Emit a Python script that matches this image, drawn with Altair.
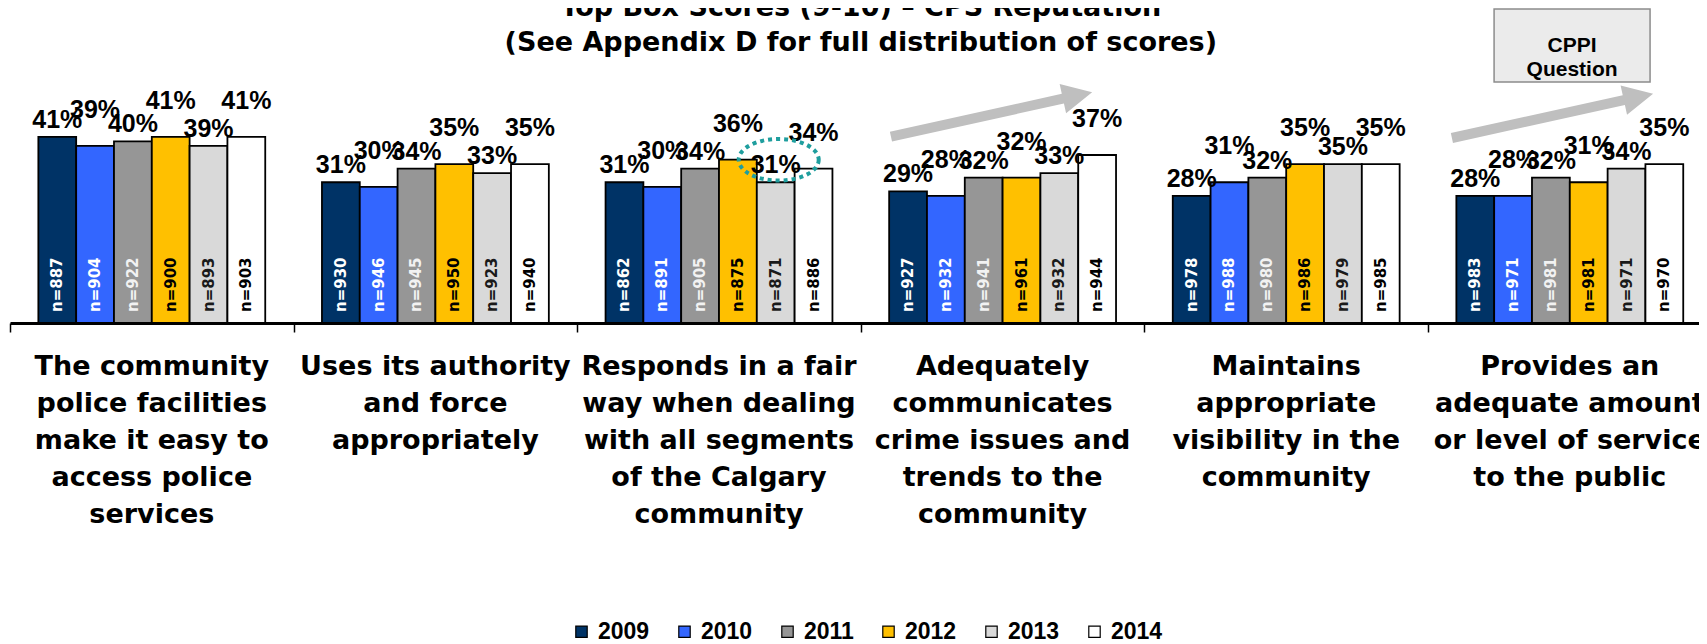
import altair as alt
import pandas as pd

# ---------------- data ----------------
categories = [
    "The community\npolice facilities\nmake it easy to\naccess police\nservices",
    "Uses its authority\nand force\nappropriately",
    "Responds in a fair\nway when dealing\nwith all segments\nof the Calgary\ncommunity",
    "Adequately\ncommunicates\ncrime issues and\ntrends to the\ncommunity",
    "Maintains\nappropriate\nvisibility in the\ncommunity",
    "Provides an\nadequate amount\nor level of service\nto the public",
]
years = ["2009", "2010", "2011", "2012", "2013", "2014"]

pct_2009 = [41, 31, 31, 29, 28, 28]
pct_2010 = [39, 30, 30, 28, 31, 28]
pct_2011 = [40, 34, 34, 32, 32, 32]
pct_2012 = [41, 35, 36, 32, 35, 31]
pct_2013 = [39, 33, 31, 33, 35, 34]
pct_2014 = [41, 35, 34, 37, 35, 35]

n_2009 = [887, 930, 862, 927, 978, 983]
n_2010 = [904, 946, 891, 932, 988, 971]
n_2011 = [922, 945, 905, 941, 980, 981]
n_2012 = [900, 950, 875, 961, 986, 981]
n_2013 = [893, 923, 871, 932, 979, 971]
n_2014 = [903, 940, 886, 944, 985, 970]

title_lines = ["Top Box Scores (9-10) \u2013 CPS Reputation",
               "(See Appendix D for full distribution of scores)"]

# annotations (in data units: category index / percent)
highlight_category = 2
highlight_year = "2013"
arrow_center_x = [3.461, 5.439]
arrow_center_y = [45.95, 45.62]
box_text = ["CPPI\nQuestion"]
box_x0, box_x1 = [5.233], [5.783]
box_y0, box_y1 = [53.08], [69.16]

# ---------------- styles ----------------
bar_colors = ["#003366", "#3366FF", "#969696", "#FFC000", "#D9D9D9", "#FFFFFF"]
n_label_colors = ["#FFFFFF", "#FFFFFF", "#F2F2F2", "#000000", "#1A1A1A", "#000000"]

pcts = [pct_2009, pct_2010, pct_2011, pct_2012, pct_2013, pct_2014]
ns = [n_2009, n_2010, n_2011, n_2012, n_2013, n_2014]

rows = []
for ci in range(len(categories)):
    for yi, yr in enumerate(years):
        rows.append({"cat_i": ci, "year_i": yi, "year": yr,
                     "pct": pcts[yi][ci], "n": ns[yi][ci],
                     "ncol": n_label_colors[yi]})
df = pd.DataFrame(rows)
cat_df = pd.DataFrame({"cat_i": list(range(len(categories))), "label": categories, "zero": 0})
arrow_df = pd.DataFrame({"x": arrow_center_x, "y": arrow_center_y})
box_df = pd.DataFrame({"x0": box_x0, "x1": box_x1, "y0": box_y0, "y1": box_y1, "text": box_text})
title_df = pd.DataFrame({"text": ["\n".join(title_lines)], "xc": [len(categories) / 2]})

W, H = 1689, 227
STEP = 283.6
xscale = alt.Scale(domain=[0, W / STEP], nice=False, zero=False)
yscale = alt.Scale(domain=[0, 50], nice=False)
xaxis = alt.Axis(values=[0, 1, 2, 3, 4, 5], labels=False, grid=False, domain=True,
                 ticks=True, tickSize=9, tickWidth=1.5, tickColor="black",
                 domainColor="black", domainWidth=3, title=None)

GROUP = 0.8
base = alt.Chart(df).transform_calculate(
    x0=f"datum.cat_i + {(1 - GROUP) / 2} + datum.year_i * {GROUP / 6}",
    x1=f"datum.x0 + {GROUP / 6}",
    xc=f"datum.x0 + {GROUP / 12}",
    pct_label="datum.pct + '%'",
    n_label="'n=' + datum.n",
    zero="0",
)

bars = base.mark_bar(stroke="black", strokeWidth=1.8).encode(
    x=alt.X("x0:Q", scale=xscale, axis=xaxis),
    x2="x1:Q",
    y=alt.Y("pct:Q", scale=yscale, axis=None),
    y2="zero:Q",
    color=alt.Color("year:N", scale=alt.Scale(domain=years, range=bar_colors),
                    legend=alt.Legend(orient="none", legendX=560, legendY=524,
                                      direction="horizontal", title=None,
                                      symbolType="square", symbolSize=130,
                                      symbolStrokeColor="black", symbolStrokeWidth=1.2,
                                      symbolOpacity=1,
                                      labelFont="Liberation Sans", labelFontWeight="bold",
                                      labelFontSize=23, labelColor="black",
                                      labelOffset=5, columnPadding=23, padding=0)),
)


def pct_layer(parity, dy):
    return base.transform_filter(f"datum.year_i % 2 == {parity}").mark_text(
        font="Liberation Sans", fontWeight="bold", fontSize=25,
        baseline="alphabetic", dy=dy, color="black").encode(
        x=alt.X("xc:Q", scale=xscale, axis=xaxis),
        y=alt.Y("pct:Q", scale=yscale, axis=None),
        text="pct_label:N",
    )


pct_even = pct_layer(0, -9)
pct_odd = pct_layer(1, -28)

n_text = base.mark_text(font="DejaVu Sans", fontWeight="bold", fontSize=15,
                        angle=270, align="left", baseline="middle", dx=11).encode(
    x=alt.X("xc:Q", scale=xscale, axis=xaxis),
    y=alt.Y("zero:Q", scale=yscale, axis=None),
    text="n_label:N",
    color=alt.Color("ncol:N", scale=None),
)

ELLIPSE = ("M 1 0 C 1 0.2872 0.5523 0.52 0 0.52 C -0.5523 0.52 -1 0.2872 -1 0 "
           "C -1 -0.2872 -0.5523 -0.52 0 -0.52 C 0.5523 -0.52 1 -0.2872 1 0 Z")
ellipse = base.transform_filter(
    f"datum.cat_i == {highlight_category} && datum.year == '{highlight_year}'"
).mark_point(shape=ELLIPSE, size=6400, filled=False, color="#1F9E9E",
             strokeWidth=4, strokeDash=[4, 4], opacity=1, xOffset=3, yOffset=-22.5).encode(
    x=alt.X("xc:Q", scale=xscale, axis=xaxis),
    y=alt.Y("pct:Q", scale=yscale, axis=None),
)

ARROW = ("M -1 -0.0485 L 0.709 -0.0485 L 0.709 -0.1456 L 1 0 "
         "L 0.709 0.1456 L 0.709 0.0485 L -1 0.0485 Z")
arrows = alt.Chart(arrow_df).mark_point(shape=ARROW, size=42436, filled=True,
                                        color="#BFBFBF", opacity=1, angle=347.6,
                                        strokeWidth=0).encode(
    x=alt.X("x:Q", scale=xscale, axis=xaxis),
    y=alt.Y("y:Q", scale=yscale, axis=None),
)

box = alt.Chart(box_df).mark_rect(fill="#EBEBEB", stroke="#8C8C8C", strokeWidth=1.5).encode(
    x=alt.X("x0:Q", scale=xscale, axis=xaxis),
    x2="x1:Q",
    y=alt.Y("y0:Q", scale=yscale, axis=None),
    y2="y1:Q",
)
box_label = alt.Chart(box_df).transform_calculate(
    xm="(datum.x0 + datum.x1) / 2", ym="(datum.y0 + datum.y1) / 2"
).mark_text(font="Liberation Sans", fontWeight="bold", fontSize=21, lineBreak="\n",
            lineHeight=24, baseline="middle", color="black").encode(
    x=alt.X("xm:Q", scale=xscale, axis=xaxis),
    y=alt.Y("ym:Q", scale=yscale, axis=None),
    text="text:N",
)

cat_text = alt.Chart(cat_df).transform_calculate(xc="datum.cat_i + 0.5").mark_text(
    font="DejaVu Sans", fontWeight="bold", fontSize=27, lineBreak="\n", lineHeight=37,
    baseline="top", align="center", dy=31, color="black").encode(
    x=alt.X("xc:Q", scale=xscale, axis=xaxis),
    y=alt.Y("zero:Q", scale=yscale, axis=None),
    text="label:N",
)

title_text = alt.Chart(title_df).mark_text(
    font="DejaVu Sans", fontWeight="bold", fontSize=27, lineBreak="\n", lineHeight=34.5,
    baseline="alphabetic", align="center", color="black").encode(
    x=alt.X("xc:Q", scale=xscale, axis=xaxis),
    y=alt.value(-80),
    text="text:N",
)

chart = alt.layer(bars, pct_even, pct_odd, n_text, ellipse, arrows, box, box_label,
                  cat_text, title_text).properties(
    width=W, height=H,
    autosize=alt.AutoSizeParams(type="none"),
    padding={"left": 2, "top": 88, "right": 0, "bottom": 321},
).configure_view(strokeWidth=0)

chart.save("out.html", embed_options={"renderer": "svg", "actions": False})
